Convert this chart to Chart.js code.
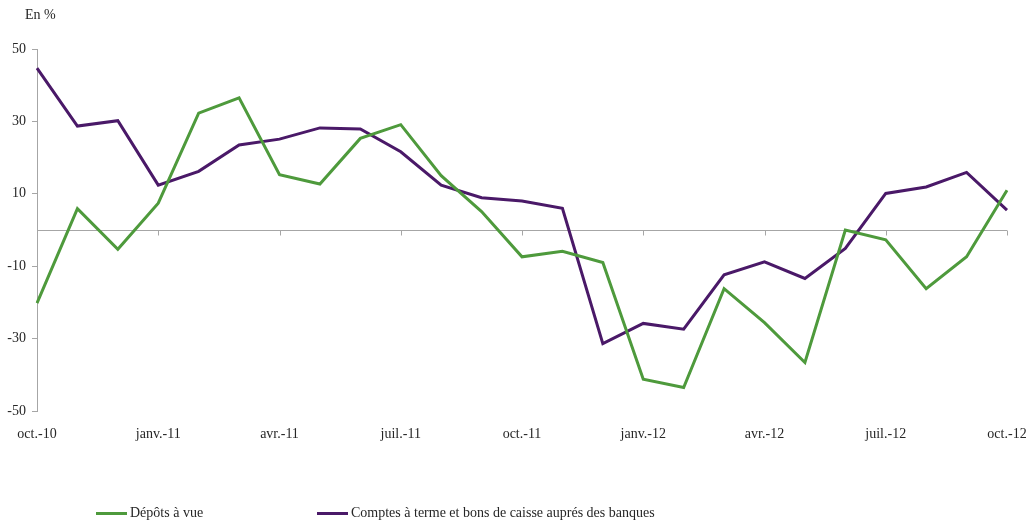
<!DOCTYPE html>
<html>
<head>
<meta charset="utf-8">
<script src="https://cdn.jsdelivr.net/npm/chart.js@4/dist/chart.umd.min.js"></script>
<style>
  html, body { margin: 0; padding: 0; background: #fff; }
  #wrap { position: relative; width: 1030px; height: 526px; }
  #chart { position: absolute; left: 0; top: 0; }
  .unit { position: absolute; left: 25px; top: 7px; font: 14px 'Liberation Serif', serif; color: #262626; }
  .legend { position: absolute; top: 505px; font: 14px 'Liberation Serif', serif; color: #262626; display: flex; align-items: center; }
  .legend span.sw { display: inline-block; width: 31px; height: 3px; margin-right: 3px; }
</style>
</head>
<body>
<div id="wrap">
  <canvas id="chart" width="1030" height="526"></canvas>
  <div class="unit">En %</div>
  <div class="legend" style="left:96px"><span class="sw" style="background:#4e9a3c"></span>Dépôts à vue</div>
  <div class="legend" style="left:317px"><span class="sw" style="background:#4a1968"></span>Comptes à terme et bons de caisse auprés des banques</div>
</div>
<script>
// mois d'oct.-10 à oct.-12
const months = [
  'oct.-10', 'nov.-10', 'déc.-10', 'janv.-11', 'févr.-11', 'mars-11', 'avr.-11', 'mai-11', 'juin-11',
  'juil.-11', 'août-11', 'sept.-11', 'oct.-11', 'nov.-11', 'déc.-11', 'janv.-12', 'févr.-12', 'mars-12',
  'avr.-12', 'mai-12', 'juin-12', 'juil.-12', 'août-12', 'sept.-12', 'oct.-12'
];

const depotsVue = [
  -20.2, 5.9, -5.3, 7.4, 32.3, 36.5, 15.3, 12.7, 25.3, 29.1, 15.0, 5.1, -7.4,
  -5.9, -9.0, -41.2, -43.5, -16.2, -25.6, -36.6, 0.0, -2.7, -16.2, -7.4, 11.0
];

const comptesTerme = [
  44.7, 28.7, 30.2, 12.4, 16.2, 23.5, 25.1, 28.2, 27.9, 21.6, 12.4, 8.9, 8.0,
  6.0, -31.4, -25.8, -27.4, -12.4, -8.8, -13.4, -5.1, 10.1, 11.9, 15.9, 5.5
];

const yTicks = [-50, -30, -10, 10, 30, 50];

const serif = "'Liberation Serif', serif";

// ligne du zéro avec petites graduations tous les 3 mois
const zeroLine = {
  id: 'zeroLine',
  beforeDatasetsDraw(chart) {
    const {ctx, chartArea, scales} = chart;
    const y = Math.round(scales.y.getPixelForValue(0)) + 0.5;
    ctx.save();
    ctx.strokeStyle = '#a6a6a6';
    ctx.lineWidth = 1;
    ctx.beginPath();
    ctx.moveTo(chartArea.left, y);
    ctx.lineTo(chartArea.right, y);
    months.forEach((m, i) => {
      if (i % 3 !== 0 || i === 0) return;
      const x = Math.round(scales.x.getPixelForValue(i)) + 0.5;
      ctx.moveTo(x, y);
      ctx.lineTo(x, y + 5);
    });
    ctx.stroke();
    ctx.restore();
  }
};

new Chart(document.getElementById('chart').getContext('2d'), {
  type: 'line',
  data: {
    labels: months,
    datasets: [{
      label: 'Dépôts à vue',
      data: depotsVue,
      borderColor: '#4e9a3c',
      borderWidth: 3,
      pointRadius: 0,
      tension: 0
    }, {
      label: 'Comptes à terme et bons de caisse auprés des banques',
      data: comptesTerme,
      borderColor: '#4a1968',
      borderWidth: 3,
      pointRadius: 0,
      tension: 0
    }]
  },
  options: {
    responsive: false,
    animation: false,
    layout: { padding: { left: 0, top: 49, right: 23, bottom: 85 } },
    plugins: { legend: { display: false }, tooltip: { enabled: false } },
    scales: {
      x: {
        offset: false,
        border: { display: false },
        grid: { display: false, drawTicks: false },
        afterFit: s => { s.height = 30; s.paddingLeft = 0; s.paddingRight = 0; },
        ticks: {
          autoSkip: false,
          maxRotation: 0,
          padding: 15,
          color: '#262626',
          font: { family: serif, size: 14 },
          callback: function (v, i) { return i % 3 === 0 ? months[i] : ''; }
        }
      },
      y: {
        min: -50,
        max: 50,
        afterFit: s => { s.width = 37; },
        afterBuildTicks: s => { s.ticks = yTicks.map(v => ({ value: v })); },
        border: { display: true, color: '#a6a6a6', width: 1 },
        grid: { drawOnChartArea: false, drawTicks: true, tickLength: 5, color: '#a6a6a6' },
        ticks: {
          padding: 6,
          color: '#262626',
          font: { family: serif, size: 14 }
        }
      }
    }
  },
  plugins: [zeroLine]
});
</script>
</body>
</html>
